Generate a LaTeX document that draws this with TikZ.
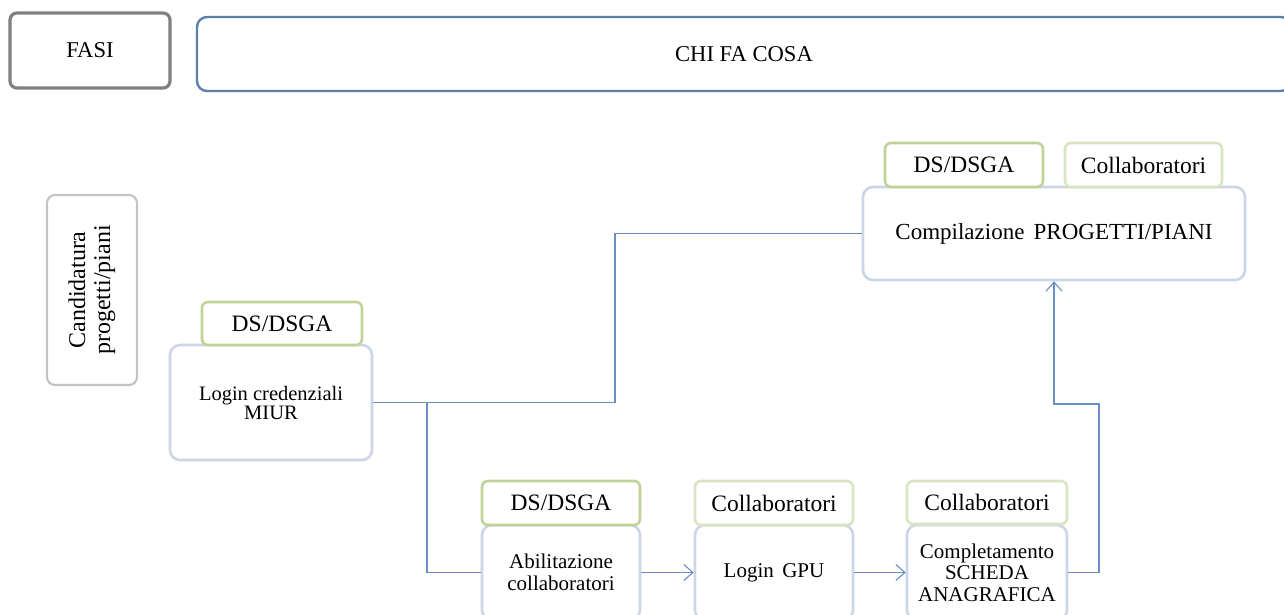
\documentclass[tikz,border=0pt]{standalone}
\usepackage{fontspec}
\setmainfont{Liberation Serif}
\usetikzlibrary{arrows.meta}
\definecolor{fasigray}{HTML}{808080}
\definecolor{chiblue}{HTML}{5B80AA}
\definecolor{candgray}{HTML}{C4C4C4}
\definecolor{dsgreen}{HTML}{C0D296}
\definecolor{colgreen}{HTML}{D9E4C2}
\definecolor{procblue}{HTML}{CBD7E6}
\definecolor{linkblue}{HTML}{6A8FC0}
\tikzset{
  base/.style={inner sep=0pt, align=center, fill=white},
  tabds/.style={base, draw=dsgreen, line width=2.6pt, rounded corners=6pt,
    minimum width=158pt, minimum height=44pt, font=\fontsize{23.5}{26}\selectfont},
  tabcol/.style={tabds, draw=colgreen},
  proc/.style={base, draw=procblue, line width=2.6pt, rounded corners=10pt,
    font=\fontsize{21}{22.5}\selectfont},
  link/.style={draw=linkblue, line width=1.1pt},
  arr/.style={link, -{Straight Barb[length=9pt, width=16pt, line width=1.1pt]}},
}
\begin{document}
\begin{tikzpicture}[x=1pt, y=-1pt]
\useasboundingbox[fill=white] (0,0) rectangle (1284,614);

% header
\node[base, draw=fasigray, line width=3.2pt, rounded corners=7pt,
  minimum width=160pt, minimum height=75pt, font=\fontsize{22.6}{25}\selectfont]
  (fasi) at (90,50.5) {FASI};
\node[base, draw=chiblue, line width=2.4pt, rounded corners=10pt,
  minimum width=1094pt, minimum height=74pt, font=\fontsize{22.6}{25}\selectfont]
  (chi) at (744,54) {CHI FA COSA};

% phase
\node[base, draw=candgray, line width=2.2pt, rounded corners=8pt, rotate=90,
  minimum width=190pt, minimum height=90pt, font=\fontsize{24}{25}\selectfont]
  (cand) at (92,290) {Candidatura\\progetti/piani};

% login MIUR
\node[proc, minimum width=202pt, minimum height=115pt, font=\fontsize{20.5}{19}\selectfont]
  (login) at (271,402.5) {Login credenziali\\MIUR};
\node[tabds, minimum width=160pt, minimum height=43pt] (tabL) at (282,323.5) {DS/DSGA};

% compilazione
\node[proc, minimum width=382pt, minimum height=93pt, font=\fontsize{23}{25}\selectfont]
  (comp) at (1054,233.5) {Compilazione\hspace{0.15em} PROGETTI/PIANI};
\node[tabds] (tabC1) at (964,165) {DS/DSGA};
\node[tabcol, minimum width=157pt] (tabC2) at (1143.5,165) {Collaboratori};

% bottom row
\node[proc, minimum width=158pt, minimum height=95pt] (box1) at (561,572.5)
  {Abilitazione\\collaboratori};
\node[tabds] (tab1) at (561,503) {DS/DSGA};
\node[proc, minimum width=158pt, minimum height=95pt] (box2) at (774,572.5)
  {Login\hspace{0.15em} GPU};
\node[tabcol] (tab2) at (774,503) {Collaboratori};
\node[proc, minimum width=160pt, minimum height=95pt, font=\fontsize{21}{21.5}\selectfont]
  (box3) at (987,572.5) {Completamento\\SCHEDA\\ANAGRAFICA};
\node[tabcol, minimum width=160pt, minimum height=43pt] (tab3) at (987,502.5) {Collaboratori};

% connectors
\coordinate (j1) at (615,402.5);
\coordinate (j2) at (427,402.5);
\coordinate (j3) at (1099,404);
\draw[link] (login.east) -- (j1) |- (comp.west);
\draw[link] (j2) |- (box1.west);
\draw[arr] (box1.east) -- (box2.west);
\draw[arr] (box2.east) -- (box3.west);
\draw[arr] (box3.east) -| (j3) -| (comp.south);
\end{tikzpicture}
\end{document}
